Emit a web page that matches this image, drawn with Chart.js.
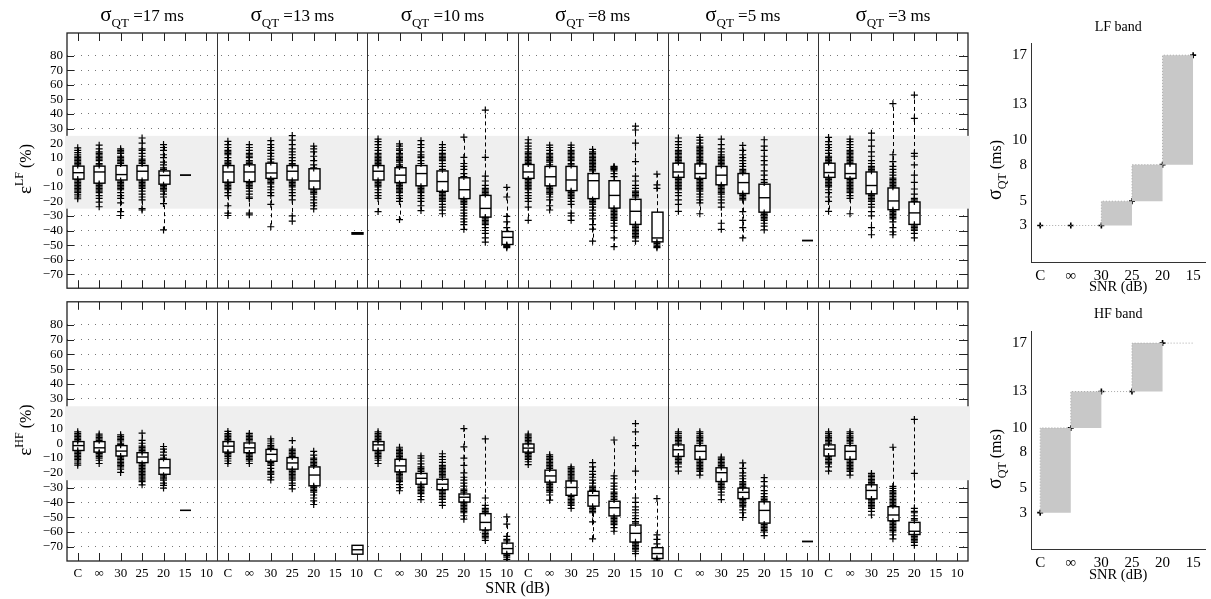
<!DOCTYPE html>
<html>
<head>
<meta charset="utf-8">
<script src="https://cdn.jsdelivr.net/npm/chart.js@4.4.0/dist/chart.umd.min.js"></script>
<style>
  html, body { margin: 0; padding: 0; background: #fff; }
  body { width: 1211px; height: 599px; position: relative; overflow: hidden; }
  canvas { position: absolute; }
</style>
</head>
<body>
<canvas id="lfBox" width="1000" height="300" style="left:0;top:0"></canvas>
<canvas id="hfBox" width="1000" height="310" style="left:0;top:290px"></canvas>
<canvas id="lfBand" width="221" height="300" style="left:990px;top:0"></canvas>
<canvas id="hfBand" width="221" height="298" style="left:990px;top:290px"></canvas>
<script>
const SERIF = '"Liberation Serif", "Times New Roman", serif';

// categories
const snrLabels = ['C', '∞', '30', '25', '20', '15', '10'];
const sigmaGroups = [17, 13, 10, 8, 5, 3];
const errTicks = [80, 70, 60, 50, 40, 30, 20, 10, 0, -10, -20, -30, -40, -50, -60, -70];
const bandLimits = [-25, 25];

// LF error: [q1, median, q3] per SNR, one row per sigma group
const lfStats = [
  [[-4.7, -0.3, 4.2], [-7.5, 0.2, 4.2], [-5.3, -1.6, 4.6], [-5.3, 0.7, 4.6], [-8.2, -2.2, 0.9], [-2, -2, -2], null],
  [[-6.9, 0.2, 4.6], [-6.4, 0.2, 5.1], [-4.2, -0.5, 6.2], [-5.3, 0.7, 4.6], [-11.5, -6, 2.4], null, [-42.5, -42, -41.5]],
  [[-5.3, 0.7, 4.6], [-7.1, -2, 3.1], [-9.3, -0.9, 4.6], [-13.1, -6.4, 0.9], [-18.1, -12, -3.8], [-30.8, -24.8, -15.9], [-49.6, -44.7, -40.7]],
  [[-4.2, 0.2, 5.3], [-9.3, -3.1, 4], [-12.6, -5.3, 4], [-18.1, -5.8, -0.9], [-24.6, -15.9, -5.8], [-35.8, -26.8, -18.6], [-47.8, -45.1, -27.4]],
  [[-3.5, 0.2, 6.2], [-4.2, -0.9, 5.7], [-8.6, -2, 4], [-14.6, -7.1, -0.9], [-27.4, -17.5, -8.2], null, [-46.9, -46.9, -46.9]],
  [[-3.5, -0.2, 6.2], [-4.2, -0.9, 5.7], [-14.8, -9.1, 0.2], [-25.7, -19.7, -10.8], [-35.8, -27.9, -20.4], null, null]
];

// LF error: individual records outside the box
const lfPoints = [
  [
    [16.8, 15, 13.5, 12, 11, 10, 9, 8, 7, 6, 5, -5, -6, -7, -8, -9, -10, -11, -12, -13, -14, -15.5, -17, -18.2],
    [18.6, 16, 14, 13, 12, 11, 10, 9, 8, 6, 5, -8, -9, -10, -11, -12, -13, -14, -16, -18, -20.5, -23.7],
    [16.1, 15, 14, 13, 11, 10, 9, 8, 7, 6, -6, -7, -8, -9, -10, -11, -12, -14, -16, -18, -21, -27, -29.7],
    [23.5, 20, 16, 15, 13, 11, 9, 8, 7, 6, -6, -7, -8, -9, -10, -11, -13, -15, -17, -19, -25, -25.9],
    [19, 17, 15, 12, 10, 7, 5, 3, 2, -9, -10, -11, -12, -13, -15, -17, -21.5, -39.6],
    [],
    null
  ],
  [
    [21.2, 19, 17, 15, 14, 13, 12, 10, 8, 7, 6, 5, -7, -8, -9, -10, -11, -12, -14, -16, -23, -28, -29.7],
    [19, 17, 15, 13, 12, 11, 10, 8, 7, 6, -7, -8, -9, -10, -11, -13, -15, -17, -18, -28, -29.2],
    [21.7, 19, 17, 15, 13, 11, 9, 7, -5, -6, -7, -8, -10, -12, -14, -16, -22, -37.4],
    [25.2, 22, 19, 16, 14, 12, 10, 8, 6, 5, -6, -7, -8, -9, -10, -12, -14, -16, -19, -30, -33.6],
    [17.9, 16, 14, 11, 8, 5, 3, -12, -13, -14, -15, -17, -19, -21, -23, -25.2],
    null,
    []
  ],
  [
    [22.8, 21, 19, 17, 15, 13, 12, 11, 10, 9, 8, 7, 6, 5, -6, -7, -8, -9, -10, -12, -14, -16, -18, -27],
    [19.5, 18, 16, 15, 13, 12, 11, 10, 9, 8, 7, 5, 4, -8, -9, -10, -11, -12, -13, -14, -16, -18, -20, -32.5],
    [21.7, 19, 17, 14, 12, 11, 10, 8, 6, -10, -11, -12, -13, -14, -16, -18, -20, -23, -26.3],
    [19, 17, 15, 13, 12, 11, 10, 9, 8, 6, 4, 2, -14, -15, -16, -17, -18, -19, -20, -22, -24, -26, -28.5],
    [24.1, 10.2, 6, 4, 2, -1, -3, -19, -20, -21, -22, -24, -26, -28, -30, -32, -34, -36, -39.2],
    [42.7, 10.2, -2.7, -6, -9, -11, -12, -13, -14, -15, -31, -32, -33, -34, -35, -36, -38, -40, -42, -45, -48],
    [-10.4, -17, -30.3, -34.1, -38, -50, -50.5, -51, -51.8]
  ],
  [
    [22.3, 20, 18, 16, 14, 13, 12, 11, 10, 9, 8, 7, 6, -5, -6, -7, -8, -9, -10, -11, -12, -14, -16, -18, -20, -24, -33],
    [18.6, 17, 15, 13, 12, 11, 10, 9, 8, 7, 5, -10, -11, -12, -13, -14, -15, -17, -19, -23, -25.9],
    [18.6, 17, 15, 14, 13, 12, 11, 10, 9, 8, 6, 5, -13, -14, -15, -16, -17, -18, -20, -22, -28, -30, -33],
    [15.7, 14, 13, 12, 11, 10, 9, 8, 7, 6, 5, 4, 3, 2, 1, -19, -20, -21, -22, -24, -26, -28, -30, -32, -36, -39, -47.3],
    [4, 3.5, 3, 2.5, 2, 1, -1, -3, -25, -26, -27, -28, -29, -30, -31, -32, -33, -35, -37, -40, -45, -51.1],
    [31.6, 29, 20, 7.3, -2.7, -6, -9, -11, -13, -14, -15, -16, -17, -36, -37, -38, -39, -40, -41, -42, -43, -44, -45, -47.3],
    [-1.3, -8.6, -11, -48, -49, -50, -51, -51.8]
  ],
  [
    [23.5, 21, 19, 17, 15, 14, 13, 12, 11, 10, 9, 8, 7, -4, -5, -6, -7, -8, -9, -10, -11, -12, -14, -16, -19, -22, -26.8],
    [23.9, 22, 20, 18, 17, 16, 15, 14, 13, 12, 11, 10, 9, 8, 7, 6, -5, -6, -7, -8, -9, -10, -11, -12, -13, -15, -17, -19, -21, -28.5],
    [22.8, 19, 16, 14, 12, 11, 10, 9, 8, 7, 6, 5, -9, -10, -11, -12, -13, -14, -15, -17, -19, -21, -24, -35, -39.2],
    [18.4, 15, 12, 10, 8, 6, 4, 2, 1, 0, -15, -16, -17, -18, -19, -27, -33, -38, -45.1],
    [22.3, 18, 15, 11, 8, 5, 1, -2, -5, -7, -28, -29, -30, -31, -32, -33, -35, -37, -39.6],
    null,
    []
  ],
  [
    [23.9, 21, 19, 17, 15, 13, 11, 10, 9, 8, 7, -4, -5, -6, -7, -8, -9, -10, -12, -14, -17, -20, -26.8],
    [22.8, 21, 19, 17, 15, 14, 13, 12, 11, 10, 9, 8, 7, 6, -5, -6, -7, -8, -9, -10, -11, -12, -13, -14, -16, -18, -28.5],
    [26.8, 22, 18, 14, 11, 8, 6, 4, 3, 2, 1, -15, -16, -17, -18, -19, -20, -22, -24, -27, -30, -38, -42.9],
    [47.1, 12, 7.3, 4, 2, 0, -2, -4, -5, -6, -7, -8, -9, -10, -26, -27, -28, -29, -30, -31, -32, -34, -38, -41, -42.9],
    [53, 37, 13, 11, 5, -2, -7, -11.5, -15, -18, -19, -20, -36, -37, -38, -39, -40, -42, -45.1],
    null,
    null
  ]
];

// HF error: [q1, median, q3] per SNR, one row per sigma group
const hfStats = [
  [[-4.9, -1.6, 1.1], [-6, -3.1, 1.1], [-8.6, -5.3, -1.6], [-13.1, -9.3, -6.4], [-21, -16.6, -10.9], [-45.4, -45.4, -45.4], null],
  [[-6, -2, 1.1], [-6.4, -3.1, 0.2], [-12.2, -7.5, -4.2], [-17.5, -13.3, -9.7], [-28.8, -21.5, -16], null, [-75, -72, -69]],
  [[-4.9, -1.1, 1.1], [-19.3, -15.3, -10.9], [-27.7, -23.7, -20.4], [-31.4, -27.7, -24.4], [-39.8, -36.5, -34.3], [-58.6, -53.5, -47.6], [-74.6, -71.2, -67.5]],
  [[-6, -3.3, -0.5], [-26.3, -22.1, -18.2], [-35.2, -29.9, -25.5], [-42.5, -35.4, -32.5], [-49.1, -43.6, -39.2], [-66.8, -60.9, -55.3], [-77.9, -74.6, -70.6]],
  [[-8.9, -4.4, -1.1], [-10.9, -5.5, -1.6], [-25.9, -19.9, -16.6], [-37.4, -33.2, -30.3], [-54, -45.4, -39.6], null, [-66.4, -66.4, -66.4]],
  [[-8.6, -4, -1.1], [-10.9, -5.5, -1.6], [-37.6, -31.9, -28.1], [-52.4, -48.5, -42.9], [-61.7, -59.5, -53.5], null, null]
];

// HF error: individual records outside the box
const hfPoints = [
  [
    [7.7, 6.5, 5.5, 4.5, 3.5, 2.5, 1.5, -5, -6, -7, -8, -9, -10, -11, -12, -13.5, -14.8],
    [6.2, 5, 4, 3, 2, -6.5, -7, -8, -9, -10, -11.5, -13.7],
    [5.7, 4.5, 3.5, 2.5, 1.5, 0, -1, -9, -10, -11, -12, -13, -14, -15, -16, -17.5, -19.7],
    [6.8, 2, 0, -2, -3, -4, -5, -6, -14, -15, -16, -17, -18, -19, -20, -21, -22, -23, -24, -25, -26, -28.1],
    [-2.2, -4, -6, -8, -10, -22, -23, -24, -25, -27, -28.5, -30.3],
    [],
    null
  ],
  [
    [8, 6.5, 5.5, 4.5, 3.5, 2.5, 1.5, -6.5, -7, -8, -9, -10.5, -12, -13.7],
    [6.6, 5.5, 4.5, 3.5, 2.5, 1.5, -7, -8, -9, -10, -11, -12, -13.7],
    [2.9, 1.5, 0, -1.5, -2.5, -3.5, -13, -14, -15, -17, -19, -20, -21, -23, -24.8],
    [1.8, -4, -5, -6, -7, -8, -9, -18, -19, -20, -21, -22, -23, -24, -25, -27, -28.5, -30.8],
    [-5.5, -8, -10, -11, -12, -13, -14, -15, -29, -30, -31, -32, -33, -35, -37, -39, -41.4],
    null,
    []
  ],
  [
    [7.7, 6.5, 5.5, 4.5, 3.5, 2.5, 1.5, -5, -6, -7, -8, -9, -10, -11.5, -13.7],
    [-2.7, -4, -5, -6, -7, -8, -9, -10, -20, -21, -22, -23, -24, -25, -26, -28, -30, -32.1],
    [-8.6, -10, -12, -14, -16, -17, -18, -19, -28, -29, -30, -31, -32, -33, -34, -36, -38.1],
    [-7.1, -9, -11, -13, -15, -16, -17, -18, -19, -20, -21, -22, -23, -32, -33, -34, -35, -36, -37, -38, -40, -42],
    [9.9, -2.5, -10, -15, -20, -23, -25, -27, -29, -31, -32, -33, -40, -41, -42, -43, -44, -45, -46, -47, -49, -51.3],
    [2.9, -37, -42, -44, -45, -46, -47, -59, -60, -61, -62, -63, -64, -65.7],
    [-49.8, -54.7, -63, -65, -66, -75, -76, -77, -78.5]
  ],
  [
    [6.2, 5, 4, 3, 2, 1, 0, -6.5, -7, -8, -9, -10, -11, -12.5, -14.4],
    [-7.8, -9, -10, -11, -12, -13, -14, -15, -16, -17, -27, -28, -29, -30, -31, -32, -33, -35, -38.5],
    [-16, -17, -18, -19, -20, -21, -22, -23, -24, -25, -36, -37, -38, -39, -40, -41, -42, -44],
    [-13.1, -16, -19, -21, -23, -25, -27, -29, -30, -31, -32, -43, -44, -45, -46, -47, -53.1, -64.6],
    [2.2, -22, -24, -27, -29, -31, -33, -34, -35, -36, -37, -38, -50, -51, -52, -53, -54, -55, -57, -59.5],
    [13.3, 7.7, -1.6, -18.8, -37, -40, -43, -45, -47, -49, -51, -53, -54, -67, -68, -69, -70, -71, -72, -73, -74.6],
    [-37.4, -62, -65, -68, -78, -79]
  ],
  [
    [7.7, 6.5, 5, 4, 3, 2, 1, 0, -9, -10, -11, -12, -13, -14, -16, -18.8],
    [7.7, 6.5, 5, 4, 3, 2, 1, 0, -11, -12, -13, -14, -15, -16, -17, -18, -19, -21.5],
    [-9.3, -10, -11, -12, -13, -14, -15, -16, -26, -27, -28, -29, -30, -31, -33, -35, -38.1],
    [-13.3, -17, -20, -22, -24, -26, -27, -28, -29, -30, -38, -39, -40, -41, -42, -43, -45, -47, -50.2],
    [-23.2, -26, -29, -32, -34, -36, -37, -38, -39, -55, -56, -57, -58, -59, -60, -62.4],
    null,
    []
  ],
  [
    [7.7, 6.5, 5, 4, 3, 2, 1, 0, -9, -10, -11, -12, -13, -14, -16, -18.8],
    [7.7, 6.5, 5, 4, 3, 2, 1, 0, -11, -12, -13, -14, -15, -16, -17, -18, -19, -21.5],
    [-20.4, -21.5, -22.5, -23.5, -24.5, -25.5, -26.5, -27.5, -38, -39, -40, -41, -42, -43, -44, -46, -48.5],
    [-2.7, -29.2, -30.5, -32, -33, -34, -35, -36, -37, -38, -39, -40, -41, -42, -53, -54, -55, -56, -57, -58, -59, -60, -62, -64.6],
    [16.1, -20.4, -44, -46, -47, -49, -51, -52, -62, -63, -64, -65, -66, -67, -69],
    null,
    null
  ]
];

// right-hand panels: smallest sigma_QT reached at each SNR
const bandSnr = ['C', '∞', '30', '25', '20', '15'];
const sigmaTicks = [3, 5, 8, 10, 13, 17];
const lfSigma = [3, 3, 3, 5, 8, 17];
const hfSigma = [3, 10, 13, 13, 17, 17];
const hfMarked = 5; // last HF value only extends the line

Chart.defaults.font.family = SERIF;
Chart.defaults.color = '#000';
Chart.defaults.animation = false;

function drawRich(ctx, parts, x, y, rotated) {
  ctx.save();
  ctx.translate(x, y);
  if (rotated) ctx.rotate(-Math.PI / 2);
  let total = 0;
  parts.forEach(p => {
    ctx.font = p.size + 'px ' + SERIF;
    p.w = ctx.measureText(p.text).width;
    total += p.w;
  });
  let cx = -total / 2;
  ctx.fillStyle = '#000';
  ctx.textAlign = 'left';
  ctx.textBaseline = 'alphabetic';
  parts.forEach(p => {
    ctx.font = p.size + 'px ' + SERIF;
    ctx.fillText(p.text, cx, p.dy || 0);
    cx += p.w;
  });
  ctx.restore();
}

function slot(g, i) {
  return g * snrLabels.length + i + 0.5;
}

const boxPlotPlugin = {
  id: 'boxPlot',
  beforeDatasetsDraw(chart, args, opts) {
    const { ctx, chartArea: a, scales: { x, y } } = chart;
    const stats = opts.stats, points = opts.points;
    ctx.save();

    // inward tick marks
    ctx.strokeStyle = '#222';
    ctx.lineWidth = 1;
    ctx.beginPath();
    sigmaGroups.forEach((s, g) => snrLabels.forEach((l, i) => {
      const px = Math.round(x.getPixelForValue(slot(g, i))) + 0.5;
      ctx.moveTo(px, a.top); ctx.lineTo(px, a.top + 8);
      ctx.moveTo(px, a.bottom); ctx.lineTo(px, a.bottom - 8);
    }));
    errTicks.forEach(v => {
      const py = Math.round(y.getPixelForValue(v)) + 0.5;
      ctx.moveTo(a.left, py); ctx.lineTo(a.left + 7, py);
      ctx.moveTo(a.right, py); ctx.lineTo(a.right - 9, py);
    });
    ctx.stroke();
    ctx.lineWidth = 1.3;
    ctx.strokeRect(a.left, a.top, a.right - a.left, a.bottom - a.top);

    // +-25 % band
    const bt = y.getPixelForValue(bandLimits[1]);
    const bb = y.getPixelForValue(bandLimits[0]);
    ctx.fillStyle = '#efefef';
    ctx.fillRect(a.left - 2, bt, a.right - a.left + 4, bb - bt);

    // group separators
    ctx.strokeStyle = '#333';
    ctx.lineWidth = 1;
    ctx.beginPath();
    for (let g = 1; g < sigmaGroups.length; g++) {
      const px = Math.round(x.getPixelForValue(g * snrLabels.length)) + 0.5;
      ctx.moveTo(px, a.top); ctx.lineTo(px, a.bottom);
    }
    ctx.stroke();

    // whiskers and boxes
    const half = 5.5;
    stats.forEach((row, g) => row.forEach((st, i) => {
      if (!st) return;
      const [q1, med, q3] = st;
      const pts = points[g][i] || [];
      const px = Math.round(x.getPixelForValue(slot(g, i))) + 0.5;
      const hi = pts.length ? Math.max(...pts) : q3;
      const lo = pts.length ? Math.min(...pts) : q1;
      ctx.strokeStyle = '#000';
      ctx.lineWidth = 1;
      ctx.setLineDash([4, 3]);
      ctx.beginPath();
      if (hi > q3) { ctx.moveTo(px, y.getPixelForValue(q3)); ctx.lineTo(px, y.getPixelForValue(hi)); }
      if (lo < q1) { ctx.moveTo(px, y.getPixelForValue(q1)); ctx.lineTo(px, y.getPixelForValue(lo)); }
      ctx.stroke();
      ctx.setLineDash([]);
      const top = y.getPixelForValue(q3), bot = y.getPixelForValue(q1);
      ctx.fillStyle = '#fff';
      ctx.fillRect(px - half, top, half * 2, bot - top);
      ctx.lineWidth = 1.4;
      ctx.strokeRect(px - half, top, half * 2, bot - top);
      const my = y.getPixelForValue(med);
      ctx.beginPath();
      ctx.moveTo(px - half, my); ctx.lineTo(px + half, my);
      ctx.stroke();
    }));
    ctx.restore();
  },
  afterDraw(chart, args, opts) {
    const { ctx, scales: { x } } = chart;
    if (opts.titles) {
      sigmaGroups.forEach((s, g) => {
        drawRich(ctx, [
          { text: 'σ', size: 21 },
          { text: 'QT', size: 13, dy: 6 },
          { text: ' =' + s + ' ms', size: 17 }
        ], x.getPixelForValue(g * snrLabels.length + snrLabels.length / 2), 21);
      });
    }
    drawRich(ctx, [
      { text: 'ε', size: 19 },
      { text: opts.band, size: 12, dy: -8 },
      { text: ' (%)', size: 16 }
    ], 31, opts.labelY, true);
  }
};

function crossData(points) {
  const out = [];
  points.forEach((row, g) => row.forEach((vals, i) => {
    (vals || []).forEach(v => out.push({ x: slot(g, i), y: v }));
  }));
  return out;
}

function boxChart(id, stats, points, cfg) {
  return new Chart(document.getElementById(id), {
    type: 'scatter',
    data: {
      datasets: [{
        data: crossData(points),
        pointStyle: 'cross',
        pointRadius: 3.5,
        borderColor: '#000',
        borderWidth: 1.2,
        backgroundColor: '#000'
      }]
    },
    options: {
      responsive: false,
      layout: { padding: { top: cfg.padTop, right: 32, left: 0, bottom: 0 } },
      plugins: {
        legend: { display: false },
        tooltip: { enabled: false },
        boxPlot: { stats, points, titles: cfg.titles, band: cfg.band, labelY: cfg.labelY }
      },
      scales: {
        x: {
          type: 'linear',
          min: 0,
          max: sigmaGroups.length * snrLabels.length,
          afterBuildTicks: axis => {
            axis.ticks = [];
            sigmaGroups.forEach((s, g) => snrLabels.forEach((l, i) => axis.ticks.push({ value: slot(g, i) })));
          },
          afterFit: axis => { axis.height = cfg.xHeight; },
          grid: { display: false, drawTicks: false },
          border: { display: false },
          ticks: {
            display: cfg.xLabels,
            autoSkip: false,
            maxRotation: 0,
            minRotation: 0,
            padding: 5,
            font: { size: 13 },
            callback: v => snrLabels[Math.floor(v) % snrLabels.length]
          },
          title: { display: cfg.xLabels, text: 'SNR (dB)', font: { size: 16 }, padding: { top: 0, bottom: 1.5 } }
        },
        y: {
          min: -79.6,
          max: 95.6,
          afterBuildTicks: axis => { axis.ticks = errTicks.map(v => ({ value: v })); },
          afterFit: axis => { axis.width = 67; },
          grid: { color: '#777', lineWidth: 1, drawTicks: false },
          border: { display: false, dash: [1, 6] },
          ticks: {
            autoSkip: false,
            padding: 4,
            font: { size: 13 },
            callback: v => (v < 0 ? '\u2212' + Math.abs(v) : String(v))
          }
        }
      }
    },
    plugins: [boxPlotPlugin]
  });
}

boxChart('lfBox', lfStats, lfPoints, { padTop: 33, xHeight: 3, xLabels: false, titles: true, band: 'LF', labelY: 169 });
boxChart('hfBox', hfStats, hfPoints, { padTop: 7, xHeight: 39, xLabels: true, titles: false, band: 'HF', labelY: 140 });

const bandLabelPlugin = {
  id: 'bandLabel',
  afterDraw(chart, args, opts) {
    const { ctx, chartArea: a } = chart;
    ctx.save();
    ctx.font = '14px ' + SERIF;
    ctx.fillStyle = '#000';
    ctx.textAlign = 'center';
    ctx.textBaseline = 'middle';
    ctx.fillText(opts.title, (a.left + a.right) / 2, opts.titleY);
    ctx.restore();
    drawRich(ctx, [
      { text: 'σ', size: 20 },
      { text: 'QT', size: 12, dy: 5 },
      { text: ' (ms)', size: 16 }
    ], 11, opts.labelY, true);
  }
};

function bandChart(id, sigma, marked, cfg) {
  const pts = sigma.map((v, i) => ({ x: i, y: v }));
  return new Chart(document.getElementById(id), {
    type: 'line',
    data: {
      datasets: [
        { data: pts, stepped: 'before', borderColor: 'rgba(0,0,0,0)', borderWidth: 0, pointRadius: 0, fill: false },
        { data: pts, stepped: 'after', borderColor: '#a8a8a8', borderWidth: 1, borderDash: [1, 2], pointRadius: 0, fill: '-1', backgroundColor: '#c8c8c8' },
        { data: pts.slice(0, marked), showLine: false, pointStyle: 'cross', pointRadius: 3, borderColor: '#000', borderWidth: 1.6 }
      ]
    },
    options: {
      responsive: false,
      layout: { padding: { top: cfg.padTop, right: 4, left: 0, bottom: 0 } },
      plugins: {
        legend: { display: false },
        tooltip: { enabled: false },
        bandLabel: { title: cfg.title, titleY: cfg.titleY, labelY: cfg.labelY }
      },
      scales: {
        x: {
          type: 'linear',
          min: -0.3,
          max: 5.4,
          afterBuildTicks: axis => { axis.ticks = bandSnr.map((l, i) => ({ value: i })); },
          afterFit: axis => { axis.height = cfg.xHeight; },
          grid: { display: false, drawTicks: false },
          border: { display: true, color: '#333', width: 1 },
          ticks: { autoSkip: false, maxRotation: 0, padding: 5, font: { size: 15 }, callback: v => bandSnr[v] },
          title: { display: true, text: 'SNR (dB)', font: { size: 14.5 }, padding: { top: 0, bottom: 4.3 } }
        },
        y: {
          min: 0,
          max: 18,
          afterBuildTicks: axis => { axis.ticks = sigmaTicks.map(v => ({ value: v })); },
          afterFit: axis => { axis.width = 41; },
          grid: { display: false, drawTicks: false },
          border: { display: true, color: '#333', width: 1 },
          ticks: { autoSkip: false, padding: 4, font: { size: 15 } }
        }
      }
    },
    plugins: [bandLabelPlugin]
  });
}

bandChart('lfBand', lfSigma, lfSigma.length, { padTop: 43, xHeight: 38, title: 'LF band', titleY: 27, labelY: 170 });
bandChart('hfBand', hfSigma, hfMarked, { padTop: 41, xHeight: 39, title: 'HF band', titleY: 24, labelY: 169 });
</script>
</body>
</html>
